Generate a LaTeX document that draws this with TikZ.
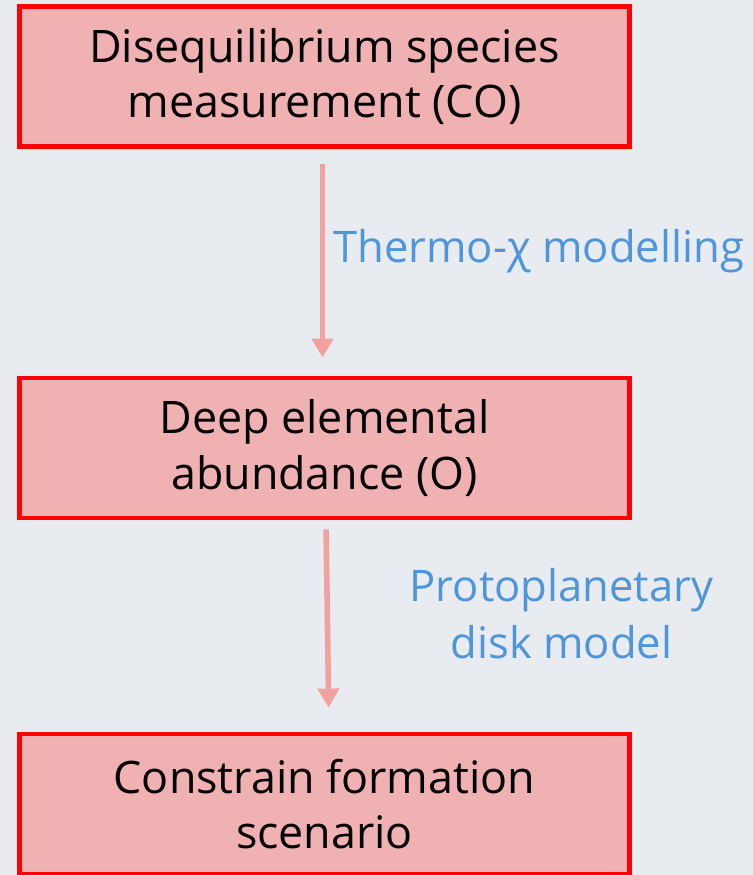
\documentclass[tikz,border=0pt]{standalone}
\usepackage{fontspec}
\setmainfont{Open Sans}
\newfontfamily\boxfont{Open Sans}
\usetikzlibrary{arrows.meta}
\definecolor{bgcol}{HTML}{E8ECF0}
\definecolor{boxred}{HTML}{FF0000}
\definecolor{boxfill}{HTML}{EFB1B1}
\definecolor{arrowpink}{HTML}{F2A0A0}
\definecolor{noteblue}{HTML}{4E95D9}

\begin{document}
\begin{tikzpicture}[x=0.02cm,y=-0.02cm,
  stepbox/.style={draw=boxred,fill=boxfill,line width=2.8pt,minimum width=12.2cm,
    minimum height=2.8cm,align=center,font=\boxfont\fontsize{25.5}{31.7}\selectfont},
  flow/.style={draw=arrowpink,line width=3.2pt,-{Triangle[width=0.42cm,length=0.38cm]}},
  note/.style={text=noteblue,align=center,inner sep=0pt,font=\fontsize{24.8}{32.3}\selectfont}]
\fill[bgcol] (0,0) rectangle (753,875);
\useasboundingbox (0,0) rectangle (753,875);
\node (measure) at (324.5,76.5) [stepbox] {Disequilibrium species\\measurement (CO)};
\node (abund) at (324.5,448) [stepbox] {Deep elemental\\abundance (O)};
\node (form) at (324.5,804) [stepbox] {Constrain formation\\scenario};
\node (thermo) at (333,251) [note,anchor=west] {Thermo-χ modelling};
\node (disk) at (561.5,614) [note] {Protoplanetary\\disk model};
\draw[flow,shorten <=0.3cm,shorten >=0.36cm] ([xshift=-0.04cm]measure.south) -- ([xshift=-0.04cm]abund.north);
\draw[flow,shorten <=0.18cm,shorten >=0.48cm] ([xshift=0.03cm]abund.south) -- ([xshift=0.09cm]form.north);
\end{tikzpicture}
\end{document}
